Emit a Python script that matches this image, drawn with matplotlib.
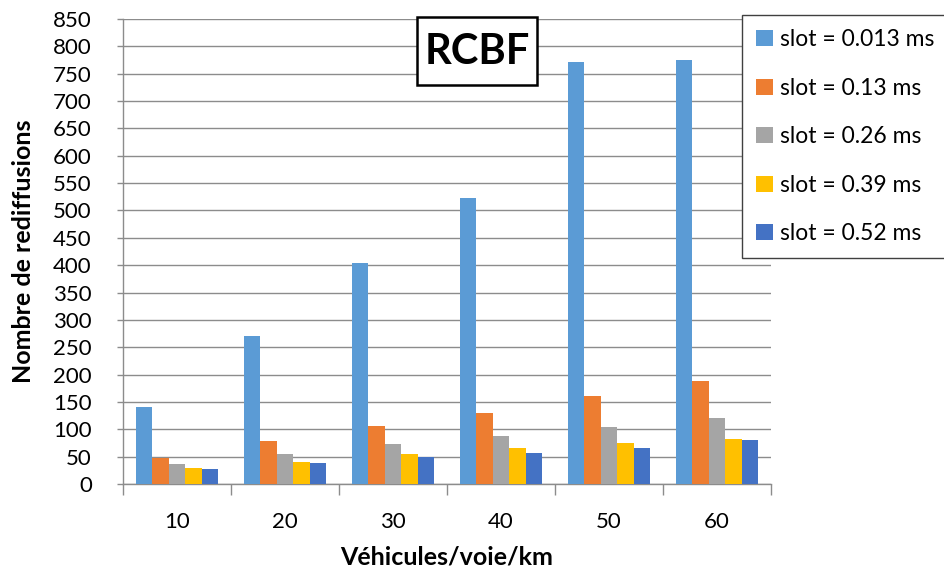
import matplotlib
matplotlib.use("Agg")
import matplotlib.pyplot as plt
from matplotlib.patches import Patch, Rectangle
import numpy as np

plt.rcParams['font.family'] = ['Lato', 'DejaVu Sans']

categories = ["10", "20", "30", "40", "50", "60"]
series_labels = ["slot = 0.013 ms", "slot = 0.13 ms", "slot = 0.26 ms",
                 "slot = 0.39 ms", "slot = 0.52 ms"]
slot_0013 = [141, 270, 404, 522, 771, 775]
slot_013 = [48, 78, 106, 130, 160, 188]
slot_026 = [36, 55, 73, 87, 104, 120]
slot_039 = [29, 41, 54, 66, 75, 82]
slot_052 = [27, 38, 49, 57, 66, 80]
y_ticks = list(range(0, 851, 50))

series = [slot_0013, slot_013, slot_026, slot_039, slot_052]
colors = ["#5B9BD5", "#ED7D31", "#A5A5A5", "#FFC000", "#4472C4"]

W, H = 944, 574
fig = plt.figure(figsize=(W / 100, H / 100), dpi=100)
ax = fig.add_axes([123 / W, 90 / H, (771 - 123) / W, (484 - 19) / H])

x = np.arange(len(categories))
bw = 0.152
offsets = (np.arange(len(series)) - 2) * bw
for vals, off, col, lab in zip(series, offsets, colors, series_labels):
    ax.bar(x + off, vals, width=bw, color=col, label=lab, zorder=3,
           edgecolor='none')

ax.set_xlim(-0.5, len(categories) - 0.5)
ax.set_ylim(0, 850)
ax.set_yticks(y_ticks)
ax.set_yticklabels([str(v) for v in y_ticks], fontsize=16)
ax.yaxis.grid(True, color="#8C8C8C", linewidth=1.0, zorder=0)
ax.set_axisbelow(True)

# category boundaries as major ticks, labels centred on minor ticks
ax.set_xticks(np.arange(-0.5, len(categories), 1.0))
ax.set_xticklabels([])
ax.set_xticks(x, minor=True)
ax.set_xticklabels(categories, minor=True, fontsize=16)
ax.tick_params(axis='x', which='major', length=8, color="#8C8C8C", width=1)
ax.tick_params(axis='x', which='minor', length=0, pad=20)
ax.tick_params(axis='y', length=4.5, color="#8C8C8C", width=1, pad=18)

for s in ['top', 'right']:
    ax.spines[s].set_visible(False)
for s in ['left', 'bottom']:
    ax.spines[s].set_color("#8C8C8C")
    ax.spines[s].set_linewidth(1)

ax.set_ylabel("Nombre de rediffusions", fontsize=18, fontweight='bold', labelpad=13)
ax.set_xlabel("Véhicules/voie/km", fontsize=18, fontweight='bold', labelpad=10)

# boxed title
fig.add_artist(Rectangle((417 / W, 1 - 85 / H), 120 / W, 68 / H,
                         transform=fig.transFigure, facecolor='white',
                         edgecolor='black', linewidth=1.8, zorder=9))
fig.text(477 / W, 1 - 52 / H, "RCBF", fontsize=30, fontweight='bold',
         ha='center', va='center', zorder=10)

handles = [Patch(facecolor=c, edgecolor='none') for c in colors]
leg = fig.legend(handles, series_labels, loc='upper left',
                 bbox_to_anchor=(742 / W, 1 - 15 / H), fontsize=16.5,
                 frameon=True, fancybox=False, shadow=False,
                 handlelength=0.72, handleheight=0.72, handletextpad=0.3,
                 labelspacing=1.2, borderpad=0.62, borderaxespad=0)
leg.get_frame().set_edgecolor("#404040")
leg.get_frame().set_linewidth(1.0)
leg.get_frame().set_alpha(1.0)

fig.savefig("out.png", dpi=100)
